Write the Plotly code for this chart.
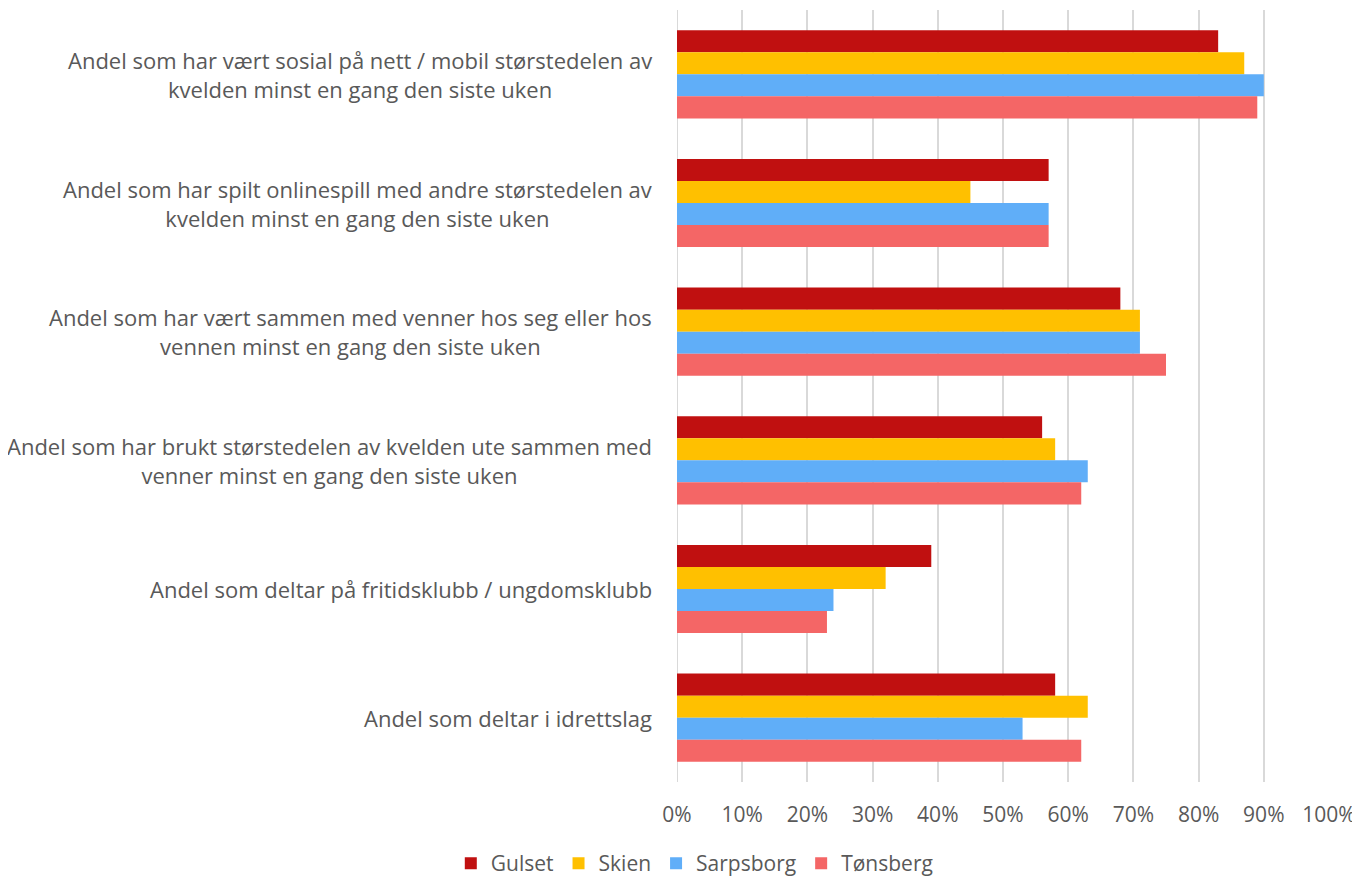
import plotly.graph_objects as go

categories = [
    "Andel som har vært sosial på nett / mobil størstedelen av<br>kvelden minst en gang den siste uken",
    "Andel som har spilt onlinespill med andre størstedelen av<br>kvelden minst en gang den siste uken",
    "Andel som har vært sammen med venner hos seg eller hos<br>vennen minst en gang den siste uken",
    "Andel som har brukt størstedelen av kvelden ute sammen med<br>venner minst en gang den siste uken",
    "Andel som deltar på fritidsklubb / ungdomsklubb",
    "Andel som deltar i idrettslag",
]
series_names = ["Gulset", "Skien", "Sarpsborg", "Tønsberg"]
gulset = [83, 57, 68, 56, 39, 58]
skien = [87, 45, 71, 58, 32, 63]
sarpsborg = [90, 57, 71, 63, 24, 53]
tonsberg = [89, 57, 75, 62, 23, 62]
x_ticks = [0, 10, 20, 30, 40, 50, 60, 70, 80, 90, 100]
x_tick_labels = ["0%", "10%", "20%", "30%", "40%", "50%", "60%", "70%", "80%", "90%", "100%"]

colors = ["#C01010", "#FFC000", "#60AEF8", "#F46666"]
values = [gulset, skien, sarpsborg, tonsberg]

FONT = "Open Sans"
GREY = "#595959"

fig = go.Figure()
for name, vals, col in zip(series_names, values, colors):
    fig.add_trace(go.Bar(
        y=categories, x=vals, name=name, orientation="h",
        marker=dict(color=col, line=dict(width=0)),
    ))

for cat in categories:
    fig.add_annotation(
        x=0, xref="paper", y=cat, yref="y", text=cat,
        xanchor="right", yanchor="middle", align="center",
        xshift=-23, showarrow=False,
        font=dict(family=FONT, size=22, color=GREY),
    )

fig.update_layout(
    width=1360, height=876,
    margin=dict(l=669, r=39, t=2, b=102),
    paper_bgcolor="white", plot_bgcolor="white",
    barmode="group", bargap=0.315, bargroupgap=0,
    font=dict(family=FONT, size=21, color=GREY),
    legend=dict(
        orientation="h", xref="container", yref="container",
        x=0.505, xanchor="center", y=0.0, yanchor="bottom",
        font=dict(family=FONT, size=21, color=GREY),
        itemwidth=30, tracegroupgap=0,
    ),
    xaxis=dict(
        range=[0, 100], tickmode="array", tickvals=x_ticks, ticktext=x_tick_labels,
        showgrid=True, gridcolor="#D9D9D9", gridwidth=2,
        zeroline=False, showline=False, ticks="",
        ticklabelstandoff=18,
        tickfont=dict(family=FONT, size=21, color=GREY),
    ),
    yaxis=dict(
        autorange="reversed", showticklabels=False, showgrid=False,
        zeroline=False, showline=False, ticks="",
    ),
)
fig.add_shape(type="line", xref="x", yref="paper", x0=0, x1=0, y0=0, y1=1,
              line=dict(color="#D9D9D9", width=2), layer="below")

fig.write_html("out.html")
